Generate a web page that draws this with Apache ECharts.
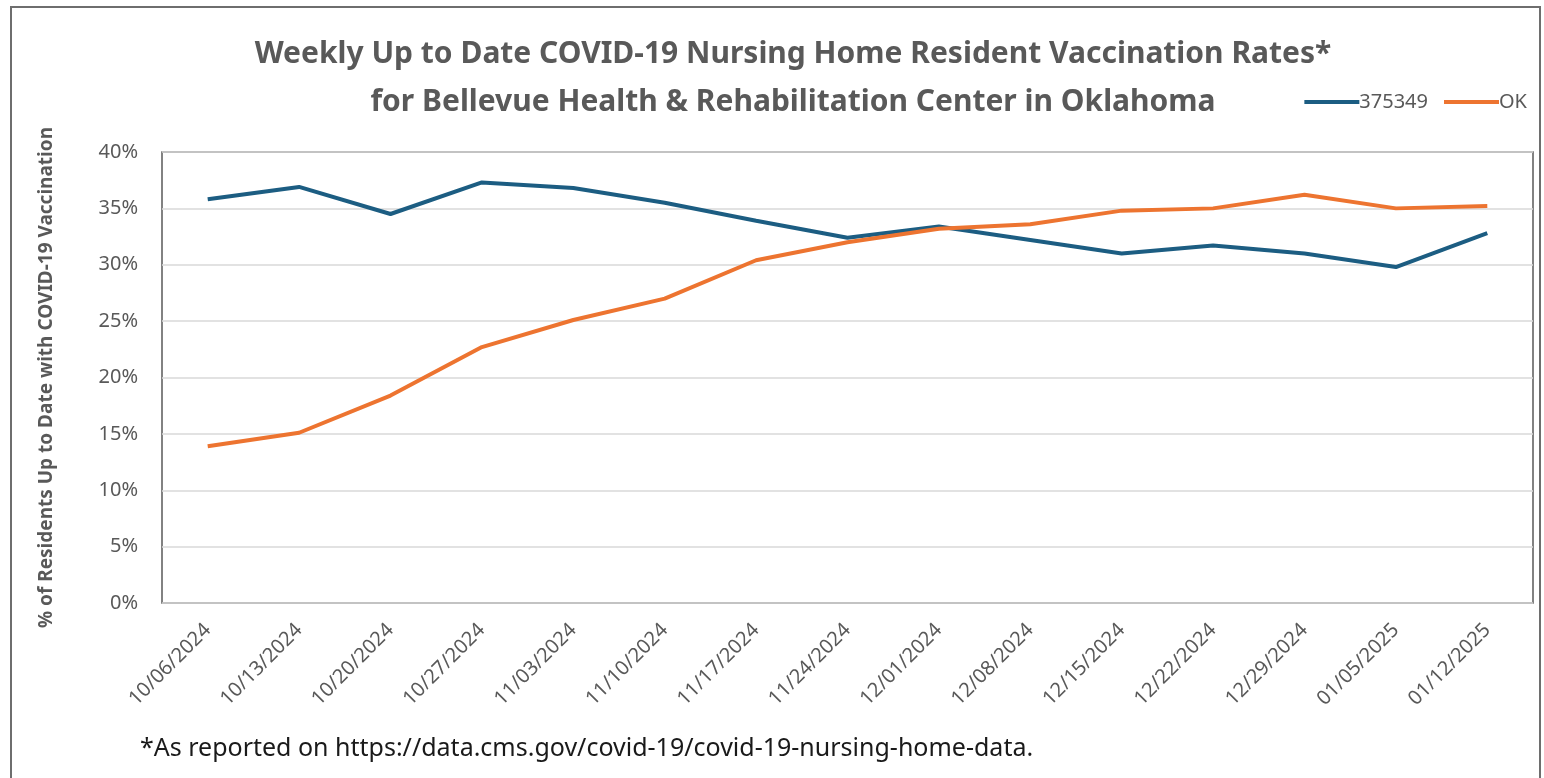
<!DOCTYPE html>
<html lang="en">
<head>
    <meta charset="utf-8">
    <title>Weekly Up to Date COVID-19 Vaccination Rates</title>
    <script src="https://cdn.jsdelivr.net/npm/echarts@6/dist/echarts.min.js"></script>
    <style type="text/css">
        html, body {
            margin: 0;
            padding: 0;
            background: #ffffff;
        }

        #main {
            width: 1544px;
            height: 778px;
        }
    </style>
</head>
<body>
<div id="main"></div>
<script type="text/javascript">
    // weeks on the x axis
    const weeks = ['10/06/2024', '10/13/2024', '10/20/2024', '10/27/2024', '11/03/2024',
        '11/10/2024', '11/17/2024', '11/24/2024', '12/01/2024', '12/08/2024',
        '12/15/2024', '12/22/2024', '12/29/2024', '01/05/2025', '01/12/2025'];

    // % of residents up to date
    const facility = [35.8, 36.9, 34.5, 37.3, 36.8, 35.5, 33.9, 32.4, 33.4, 32.2, 31.0, 31.7, 31.0, 29.8, 32.8];
    const stateOK = [13.9, 15.1, 18.4, 22.7, 25.1, 27.0, 30.4, 32.0, 33.2, 33.6, 34.8, 35.0, 36.2, 35.0, 35.2];

    const yTicks = [0, 5, 10, 15, 20, 25, 30, 35, 40];

    const GREY = '#595959';
    const FONT = '"Noto Sans", "Liberation Sans", sans-serif';

    let myChart = echarts.init(document.getElementById('main'));

    let option = {
        backgroundColor: '#ffffff',
        animation: false,
        textStyle: {fontFamily: FONT},
        title: {
            text: 'Weekly Up to Date COVID-19 Nursing Home Resident Vaccination Rates*\nfor Bellevue Health & Rehabilitation Center in Oklahoma',
            left: 788,
            top: 25,
            textAlign: 'center',
            textStyle: {
                color: GREY,
                fontSize: 30,
                fontWeight: 'bold',
                lineHeight: 48,
                fontFamily: FONT
            }
        },
        legend: {
            right: 12,
            top: 87,
            itemWidth: 55,
            itemHeight: 4,
            itemGap: 16,
            icon: 'rect',
            textStyle: {color: GREY, fontSize: 20, padding: [0, 0, 0, -5]},
            data: ['375349', 'OK']
        },
        grid: {
            left: 162,
            right: 11,
            top: 152,
            bottom: 175,
            show: true,
            borderColor: GREY,
            borderWidth: 1.5
        },
        xAxis: {
            type: 'category',
            data: weeks,
            boundaryGap: true,
            axisLine: {show: false},
            axisTick: {show: false},
            axisLabel: {
                rotate: 45,
                color: GREY,
                fontSize: 20,
                margin: 24,
                interval: 0
            }
        },
        yAxis: {
            type: 'value',
            min: yTicks[0],
            max: yTicks[yTicks.length - 1],
            interval: 5,
            name: '% of Residents Up to Date with COVID-19 Vaccination',
            nameLocation: 'middle',
            nameGap: 106,
            nameTextStyle: {color: GREY, fontSize: 19, fontWeight: 'bold'},
            axisLine: {show: false},
            axisTick: {show: false},
            axisLabel: {
                color: GREY,
                fontSize: 20,
                margin: 24,
                formatter: '{value}%'
            },
            splitLine: {lineStyle: {color: '#d9d9d9', width: 1.5}}
        },
        series: [
            {
                name: '375349',
                type: 'line',
                data: facility,
                symbol: 'none',
                color: '#1c5d82',
                lineStyle: {width: 4, color: '#1c5d82'}
            },
            {
                name: 'OK',
                type: 'line',
                data: stateOK,
                symbol: 'none',
                color: '#ed7430',
                lineStyle: {width: 4, color: '#ed7430'}
            }
        ],
        graphic: [
            {
                type: 'rect',
                shape: {x: 11, y: 7, width: 1529, height: 780},
                style: {fill: 'none', stroke: '#6e6e6e', lineWidth: 2},
                silent: true
            },
            {
                type: 'text',
                left: 140,
                top: 736,
                style: {
                    text: '*As reported on https://data.cms.gov/covid-19/covid-19-nursing-home-data.',
                    fill: '#1a1a1a',
                    fontSize: 25,
                    fontFamily: FONT
                }
            }
        ]
    };

    myChart.setOption(option);
</script>
</body>
</html>
